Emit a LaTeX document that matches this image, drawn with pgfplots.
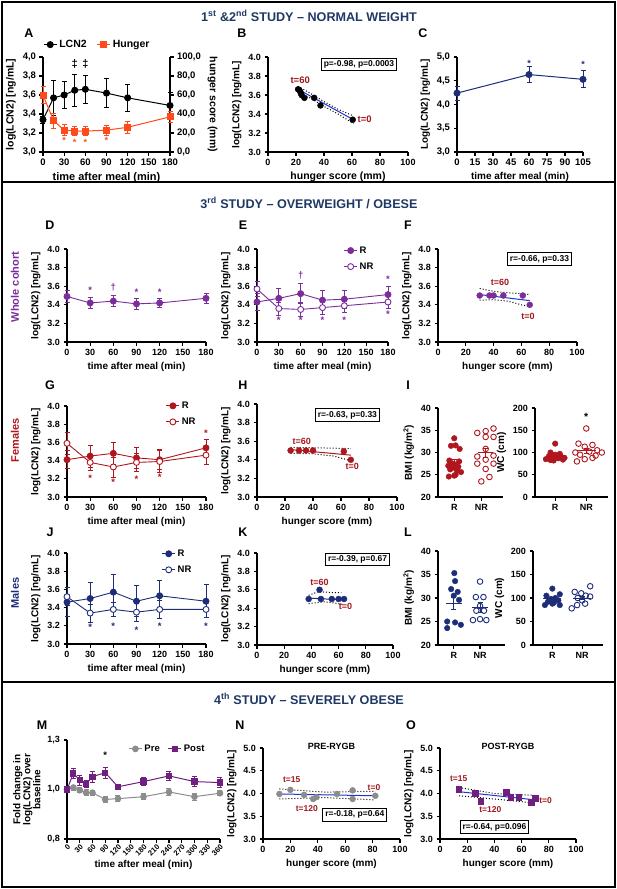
\documentclass[border=0pt]{standalone}
\usepackage{fontspec}
\setmainfont{Liberation Sans}[UprightFont={* Bold}]
\usepackage{pgfplots}
\pgfplotsset{compat=1.18}

\definecolor{ttl}{HTML}{1F3864}
\definecolor{navy}{HTML}{1E2D78}
\definecolor{purp}{HTML}{7B2D9B}
\definecolor{dred}{HTML}{B0161E}
\definecolor{hung}{HTML}{FF4A1C}
\definecolor{regb}{HTML}{2233CC}
\definecolor{tlab}{HTML}{A0181E}
\definecolor{preg}{HTML}{8C8C8C}
\definecolor{postp}{HTML}{6E1F80}

\newcommand\fs[1]{\fontsize{#1}{#1}\selectfont}

\tikzset{tbox/.style={draw, line width=1pt, fill=white, inner sep=2.5pt, font=\fs{8.5}}}

\pgfplotsset{
  gp/.style={scale only axis, anchor=south west, clip=false,
    axis x line*=bottom, axis y line*=left,
    tick align=outside, axis line style={line width=1.2pt},
    tick style={line width=1.1pt, black}, major tick length=3.5pt,
    tick label style={font=\fs{9}},
    label style={font=\fs{10}},
    /pgf/number format/assume math mode=true,
    legend image code/.code={\draw[mark repeat=2,mark phase=2,##1]
      plot coordinates {(0cm,0cm) (0.23cm,0cm) (0.46cm,0cm)};}},
  comma1/.style={yticklabel style={/pgf/number format/.cd, use comma, fixed, fixed zerofill, precision=1}},
  dot1/.style={yticklabel style={/pgf/number format/.cd, fixed, fixed zerofill, precision=1}},
  eb/.style={error bars/.cd, y dir=both, y explicit,
    error bar style={line width=0.8pt},
    error mark options={rotate=90, mark size=2.5pt, line width=0.8pt}},
  tpanel/.style={gp, xmin=0, xmax=180, xtick={0,30,60,90,120,150,180},
    ymin=3, ymax=4, ytick={3,3.2,3.4,3.6,3.8,4}, dot1,
    xlabel={time after meal (min)}, ylabel={log(LCN2) [ng/mL]}},
  hpanel/.style={gp, xmin=0, xmax=100, xtick={0,20,40,60,80,100},
    ymin=3, ymax=4, ytick={3,3.2,3.4,3.6,3.8,4}, dot1,
    xlabel={hunger score (mm)}, ylabel={log(LCN2) [ng/mL]}},
  leg/.style={legend style={draw=none, fill=none, font=\fs{9.5}, row sep=4pt,
    inner sep=0pt, cells={anchor=west}}},
  bmi/.style={gp, xmin=0.4, xmax=2.8, xtick={1,2}, xticklabels={R,NR},
    ymin=20, ymax=40, ytick={20,25,30,35,40}, ylabel={BMI (kg/m\textsuperscript{2})}},
  wc/.style={gp, xmin=0.35, xmax=2.7, xtick={1,2}, xticklabels={R,NR},
    ymin=0, ymax=200, ytick={0,50,100,150,200}, ylabel={WC (cm)}},
}

\begin{document}
\begin{tikzpicture}
\useasboundingbox (0pt,0pt) rectangle (617pt,-889pt);
\begin{scope}[x=1pt,y=-1pt]
\draw[line width=1.5pt] (2,2) rectangle (615,887);
\draw[line width=1.8pt] (2,182) -- (615,182);
\draw[line width=1.8pt] (2,682) -- (615,682);
\node[text=ttl, font=\fs{12.6}] at (309,16) {1\textsuperscript{st} \&2\textsuperscript{nd} STUDY -- NORMAL WEIGHT};
\node[text=ttl, font=\fs{12.6}] at (309,203) {3\textsuperscript{rd} STUDY -- OVERWEIGHT / OBESE};
\node[text=ttl, font=\fs{12.6}] at (309,699) {4\textsuperscript{th} STUDY -- SEVERELY OBESE};
\foreach \l/\x/\y in {A/29/33,B/242/33,C/423/33,D/50/225,E/243/225,F/408/225,
  G/50/385,H/243/385,I/408/385,J/50/532,K/243/532,L/408/532,M/42/725,N/240/725,O/411/725}
  \node[font=\fs{12.5}] at (\x,\y) {\l};
\node[rotate=90, text=purp, font=\fs{11}] at (15,287) {Whole cohort};
\node[rotate=90, text=dred, font=\fs{11}] at (15,440) {Females};
\node[rotate=90, text=navy, font=\fs{11}] at (15,593) {Males};
\end{scope}

% ---------- A ----------
\begin{axis}[tpanel, at={(43pt,-152pt)}, width=127pt, height=95pt, comma1,
  tick label style={font=\fs{9.5}}, label style={font=\fs{10.5}},
  xlabel style={font=\fs{11}}]
\addplot[black, line width=1pt, mark=*, mark size=3pt, eb] coordinates {
  (0,3.34) +- (0,0.04) (15,3.57) +- (0,0.18) (30,3.60) +- (0,0.14)
  (45,3.65) +- (0,0.17) (60,3.66) +- (0,0.15) (90,3.62) +- (0,0.15)
  (120,3.57) +- (0,0.14) (180,3.49) +- (0,0.14)};
\node[font=\fs{11}] at (axis cs:45,3.93) {‡};
\node[font=\fs{11}] at (axis cs:60,3.93) {‡};
\end{axis}
\begin{axis}[gp, at={(43pt,-152pt)}, width=127pt, height=95pt,
  axis y line*=right, axis x line=none, xmin=0, xmax=180,
  ymin=0, ymax=100, ytick={0,20,40,60,80,100},
  yticklabel style={/pgf/number format/.cd, use comma, fixed, fixed zerofill, precision=1},
  tick label style={font=\fs{9.5}}, label style={font=\fs{10.5}},
  ylabel={hunger score (mm)}, ylabel style={rotate=180},
  legend columns=2, legend style={draw=none, fill=none, font=\fs{10.5},
    at={(axis description cs:0.0,1.13)}, anchor=west, inner sep=0pt},
  /tikz/every even column/.append style={column sep=8pt}]
\addlegendimage{black, line width=1pt, mark=*, mark size=3pt}
\addlegendentry{LCN2}
\addplot[hung, line width=1pt, mark=square*, mark size=3pt, eb] coordinates {
  (0,60) +- (0,9) (15,33) +- (0,8) (30,23) +- (0,6) (45,22) +- (0,5)
  (60,22) +- (0,5) (90,23) +- (0,5) (120,26) +- (0,6) (180,37) +- (0,6)};
\addlegendentry{Hunger}
\node[text=hung, font=\fs{9}] at (axis cs:30,12) {*};
\node[text=hung, font=\fs{9}] at (axis cs:45,10) {*};
\node[text=hung, font=\fs{9}] at (axis cs:60,10) {*};
\node[text=hung, font=\fs{9}] at (axis cs:90,12) {*};
\end{axis}

% ---------- B ----------
\begin{axis}[hpanel, at={(268pt,-152pt)}, width=140pt, height=95pt,
  xlabel style={font=\fs{10.5}}]
\addplot[dotted, line width=1pt] coordinates {(21.5,3.69)(30,3.62)(40,3.53)(50,3.45)(61,3.38)};
\addplot[dotted, line width=1pt] coordinates {(21.5,3.62)(30,3.57)(40,3.48)(50,3.40)(61,3.30)};
\addplot[regb, line width=1pt] coordinates {(21.5,3.66)(61,3.34)};
\addplot[only marks, black, mark=*, mark size=3pt] coordinates {
  (21.5,3.66)(22.5,3.65)(23.5,3.62)(24,3.60)(26,3.57)(33,3.57)(37.5,3.49)(60.5,3.34)};
\node[tbox] at (axis cs:65,3.92) {p=-0.98, p=0.0003};
\node[text=tlab, font=\fs{9.5}] at (axis cs:23,3.76) {t=60};
\node[text=tlab, font=\fs{9.5}] at (axis cs:69,3.35) {t=0};
\end{axis}

% ---------- C ----------
\begin{axis}[gp, at={(457pt,-152pt)}, width=126pt, height=95pt,
  xmin=0, xmax=105, xtick={0,15,30,45,60,75,90,105},
  ymin=3, ymax=5, ytick={3,3.5,4,4.5,5}, comma1,
  tick label style={font=\fs{9.5}}, label style={font=\fs{10}},
  xlabel={time after meal (min)}, ylabel={Log(LCN2) [ng/mL]}]
\addplot[navy, line width=1pt, mark=*, mark size=3pt, eb] coordinates {
  (0,4.24) +- (0,0.15) (60,4.63) +- (0,0.17) (105,4.53) +- (0,0.18)};
\node[text=navy, font=\fs{9}] at (axis cs:60,4.86) {*};
\node[text=navy, font=\fs{9}] at (axis cs:105,4.84) {*};
\end{axis}

% ---------- D ----------
\begin{axis}[tpanel, at={(67pt,-342pt)}, width=139pt, height=93pt]
\addplot[purp, line width=0.9pt, mark=*, mark size=3pt, eb] coordinates {
  (0,3.49) +- (0,0.06) (30,3.42) +- (0,0.06) (60,3.44) +- (0,0.06)
  (90,3.41) +- (0,0.06) (120,3.42) +- (0,0.05) (180,3.47) +- (0,0.05)};
\node[text=purp, font=\fs{9.5}] at (axis cs:30,3.56) {*};
\node[text=purp, font=\fs{9.5}] at (axis cs:60,3.59) {†};
\node[text=purp, font=\fs{9.5}] at (axis cs:90,3.53) {*};
\node[text=purp, font=\fs{9.5}] at (axis cs:120,3.54) {*};
\end{axis}

% ---------- E ----------
\begin{axis}[tpanel, at={(257pt,-342pt)}, width=131pt, height=93pt, leg,
  legend style={at={(axis description cs:0.66,1.05)}, anchor=north west}]
\addplot[purp, line width=0.9pt, mark=*, mark size=3pt, eb] coordinates {
  (0,3.43) +- (0,0.09) (30,3.47) +- (0,0.11) (60,3.52) +- (0,0.11)
  (90,3.45) +- (0,0.10) (120,3.46) +- (0,0.10) (180,3.51) +- (0,0.09)};
\addlegendentry{R}
\addplot[purp, line width=0.9pt, mark=*, mark size=3pt, mark options={fill=white}, eb] coordinates {
  (0,3.57) +- (0,0.08) (30,3.36) +- (0,0.07) (60,3.35) +- (0,0.08)
  (90,3.37) +- (0,0.07) (120,3.39) +- (0,0.07) (180,3.43) +- (0,0.07)};
\addlegendentry{NR}
\node[text=purp, font=\fs{9.5}] at (axis cs:60,3.72) {†};
\node[text=purp, font=\fs{9.5}] at (axis cs:180,3.68) {*};
\pgfplotsinvokeforeach{30,60,90,120}{
  \node[text=purp, font=\fs{9.5}] at (axis cs:#1,3.23) {*};}
\node[text=purp, font=\fs{9.5}] at (axis cs:180,3.30) {*};
\end{axis}

% ---------- F ----------
\begin{axis}[hpanel, at={(438pt,-342pt)}, width=139pt, height=93pt]
\addplot[dotted, line width=1pt] coordinates {(30,3.575)(40,3.545)(50,3.53)(60,3.52)(66,3.51)};
\addplot[dotted, line width=1pt] coordinates {(30,3.45)(40,3.455)(50,3.44)(60,3.40)(66,3.38)};
\addplot[regb, line width=1pt] coordinates {(30,3.51)(66,3.445)};
\addplot[only marks, purp, mark=*, mark size=3pt] coordinates {
  (30,3.50)(37,3.50)(40,3.50)(47,3.50)(61,3.50)(66,3.40)};
\node[tbox] at (axis cs:73,3.89) {r=-0.66, p=0.33};
\node[text=tlab, font=\fs{9}] at (axis cs:44.6,3.645) {t=60};
\node[text=tlab, font=\fs{9}] at (axis cs:64.7,3.28) {t=0};
\end{axis}

% ---------- G ----------
\begin{axis}[tpanel, at={(67pt,-497pt)}, width=139pt, height=91pt, leg,
  legend style={at={(axis description cs:0.71,1.07)}, anchor=north west}]
\addplot[dred, line width=0.9pt, mark=*, mark size=3pt, eb] coordinates {
  (0,3.41) +- (0,0.10) (30,3.45) +- (0,0.12) (60,3.48) +- (0,0.12)
  (90,3.43) +- (0,0.12) (120,3.41) +- (0,0.11) (180,3.54) +- (0,0.09)};
\addlegendentry{R}
\addplot[dred, line width=0.9pt, mark=*, mark size=3pt, mark options={fill=white}, eb] coordinates {
  (0,3.59) +- (0,0.12) (30,3.38) +- (0,0.09) (60,3.33) +- (0,0.11)
  (90,3.38) +- (0,0.10) (120,3.39) +- (0,0.12) (180,3.46) +- (0,0.10)};
\addlegendentry{NR}
\node[text=dred, font=\fs{9.5}] at (axis cs:30,3.21) {*};
\node[text=dred, font=\fs{9.5}] at (axis cs:60,3.16) {*};
\node[text=dred, font=\fs{9.5}] at (axis cs:90,3.20) {*};
\node[text=dred, font=\fs{9.5}] at (axis cs:120,3.22) {*};
\node[text=dred, font=\fs{9.5}] at (axis cs:180,3.70) {*};
\end{axis}

% ---------- H ----------
\begin{axis}[hpanel, at={(257pt,-497pt)}, width=140pt, height=93pt]
\addplot[dotted, line width=1pt] coordinates {(24,3.535)(40,3.53)(55,3.525)(67,3.52)};
\addplot[dotted, line width=1pt] coordinates {(24,3.47)(40,3.465)(55,3.44)(67,3.39)};
\addplot[dred, line width=1pt] coordinates {(24,3.51)(67,3.45)};
\addplot[only marks, dred, mark=*, mark size=3pt] coordinates {
  (24,3.50)(30,3.50)(35,3.50)(40,3.50)(62,3.49)(67,3.40)};
\node[tbox] at (axis cs:64.6,3.88) {r=-0.63, p=0.33};
\node[text=tlab, font=\fs{9}] at (axis cs:32,3.60) {t=60};
\node[text=tlab, font=\fs{9}] at (axis cs:68,3.33) {t=0};
\end{axis}

% ---------- I ----------
\begin{axis}[bmi, at={(438pt,-497pt)}, width=65pt, height=89pt]
\addplot[only marks, dred, mark=*, mark size=2.8pt] coordinates {
  (1.0,33.2)(0.88,31.5)(1.05,31.6)(1.2,30.8)(0.82,28.2)(1.18,28.0)(0.9,27.6)
  (1.05,27.3)(0.78,27.0)(1.15,26.8)(0.95,26.6)(0.85,26.2)(1.1,26.0)(1.25,25.6)
  (1.05,25.0)(0.8,24.6)(1.0,24.8)};
\addplot[only marks, dred, mark=o, mark size=2.8pt, line width=0.9pt] coordinates {
  (1.85,34.4)(2.16,34.8)(2.45,35.4)(2.16,33.5)(2.45,33.5)(1.85,29.1)(2.16,30.8)
  (2.45,29.3)(2.16,28.4)(2.45,27.5)(1.85,27.5)(2.16,26.3)(2.3,24.5)(2.0,23.5)};
\addplot[dred, line width=1pt, mark=none, eb] coordinates {(1,27.7) +- (0,0.7)};
\addplot[dred, line width=1pt] coordinates {(0.72,27.7)(1.28,27.7)};
\addplot[dred, line width=1pt, mark=none, eb] coordinates {(2.15,30.0) +- (0,1.0)};
\addplot[dred, line width=1pt] coordinates {(1.87,30.0)(2.43,30.0)};
\end{axis}
\begin{axis}[wc, at={(535pt,-497pt)}, width=73pt, height=89pt]
\addplot[only marks, dred, mark=*, mark size=2.8pt] coordinates {
  (1.0,120)(0.85,100)(1.15,97)(1.0,95)(0.8,92)(1.2,90)(0.9,88)(1.1,87)
  (0.7,85)(1.25,84)(0.95,82)(1.05,90)(0.85,83)(1.15,93)(1.3,88)};
\addplot[only marks, dred, mark=o, mark size=2.8pt, line width=0.9pt] coordinates {
  (2.0,154)(1.75,120)(2.2,117)(1.95,113)(2.35,105)(1.65,100)(2.1,102)
  (2.5,100)(1.8,95)(2.3,93)(1.95,85)(1.7,80)(2.2,88)};
\addplot[dred, line width=1pt, mark=none, eb] coordinates {(1,91) +- (0,3)};
\addplot[dred, line width=1pt] coordinates {(0.7,91)(1.3,91)};
\addplot[dred, line width=1pt, mark=none, eb] coordinates {(2,104) +- (0,5)};
\addplot[dred, line width=1pt] coordinates {(1.7,104)(2.3,104)};
\node[font=\fs{10.5}] at (axis cs:2,180) {*};
\end{axis}

% ---------- J ----------
\begin{axis}[tpanel, at={(67pt,-644pt)}, width=139pt, height=91pt, leg,
  legend style={at={(axis description cs:0.68,1.06)}, anchor=north west}]
\addplot[navy, line width=0.9pt, mark=*, mark size=3pt, eb] coordinates {
  (0,3.46) +- (0,0.16) (30,3.50) +- (0,0.18) (60,3.57) +- (0,0.19)
  (90,3.47) +- (0,0.17) (120,3.53) +- (0,0.17) (180,3.47) +- (0,0.18)};
\addlegendentry{R}
\addplot[navy, line width=0.9pt, mark=*, mark size=3pt, mark options={fill=white}, eb] coordinates {
  (0,3.52) +- (0,0.10) (30,3.34) +- (0,0.10) (60,3.38) +- (0,0.08)
  (90,3.35) +- (0,0.10) (120,3.38) +- (0,0.10) (180,3.38) +- (0,0.09)};
\addlegendentry{NR}
\node[text=navy, font=\fs{9.5}] at (axis cs:30,3.18) {*};
\node[text=navy, font=\fs{9.5}] at (axis cs:60,3.20) {*};
\node[text=navy, font=\fs{9.5}] at (axis cs:90,3.15) {*};
\node[text=navy, font=\fs{9.5}] at (axis cs:120,3.19) {*};
\node[text=navy, font=\fs{9.5}] at (axis cs:180,3.20) {*};
\end{axis}

% ---------- K ----------
\begin{axis}[hpanel, at={(257pt,-645pt)}, width=136pt, height=92pt]
\addplot[dotted, line width=1pt] coordinates {(38,3.54)(45,3.58)(55,3.57)(62,3.57)};
\addplot[dotted, line width=1pt] coordinates {(38,3.45)(50,3.47)(60,3.45)(64,3.44)};
\addplot[navy, line width=1pt] coordinates {(38,3.51)(64,3.49)};
\addplot[only marks, navy, mark=*, mark size=3pt] coordinates {
  (38,3.50)(46,3.60)(47,3.50)(55,3.50)(60,3.50)(64,3.50)};
\node[tbox] at (axis cs:74,3.93) {r=-0.39, p=0.67};
\node[text=tlab, font=\fs{9}] at (axis cs:46,3.68) {t=60};
\node[text=tlab, font=\fs{9}] at (axis cs:65,3.42) {t=0};
\end{axis}

% ---------- L ----------
\begin{axis}[bmi, at={(438pt,-645pt)}, width=67pt, height=94pt, xmax=2.95]
\addplot[only marks, navy, mark=*, mark size=2.8pt] coordinates {
  (1.02,35.3)(1.05,33.6)(0.9,31.9)(1.15,31.3)(1.0,30.5)(1.2,29.6)
  (0.75,25.0)(1.05,24.8)(1.27,24.3)(0.75,23.6)};
\addplot[only marks, navy, mark=o, mark size=2.8pt, line width=0.9pt] coordinates {
  (2.0,33.5)(1.84,30.2)(2.13,30.2)(2.0,28.3)(1.86,27.3)(2.15,27.3)
  (1.73,25.3)(2.0,25.5)(2.24,25.3)};
\addplot[navy, line width=1pt, mark=none, eb] coordinates {(1,28.8) +- (0,1.3)};
\addplot[navy, line width=1pt] coordinates {(0.7,28.8)(1.3,28.8)};
\addplot[navy, line width=1pt, mark=none, eb] coordinates {(2,28.0) +- (0,1.0)};
\addplot[navy, line width=1pt] coordinates {(1.7,28.0)(2.3,28.0)};
\end{axis}
\begin{axis}[wc, at={(533pt,-645pt)}, width=70pt, height=94pt]
\addplot[only marks, navy, mark=*, mark size=2.8pt] coordinates {
  (1.0,120)(1.25,108)(0.8,105)(1.1,100)(0.95,98)(1.2,95)(0.85,92)
  (1.05,90)(0.75,85)(1.25,85)(1.0,88)};
\addplot[only marks, navy, mark=o, mark size=2.8pt, line width=0.9pt] coordinates {
  (2.27,125)(1.75,113)(1.97,110)(2.12,105)(2.27,103)(1.85,100)(2.0,95)
  (2.1,88)(1.83,85)(1.65,78)};
\addplot[navy, line width=1pt, mark=none, eb] coordinates {(1,98) +- (0,3)};
\addplot[navy, line width=1pt] coordinates {(0.7,98)(1.3,98)};
\addplot[navy, line width=1pt, mark=none, eb] coordinates {(2,100) +- (0,4)};
\addplot[navy, line width=1pt] coordinates {(1.7,100)(2.3,100)};
\end{axis}

% ---------- M ----------
\begin{axis}[gp, at={(67pt,-839pt)}, width=153pt, height=99pt,
  xmin=0, xmax=360, xtick={0,30,60,90,120,150,180,210,240,270,300,330,360},
  xticklabel style={font=\fs{7.5}, rotate=45, anchor=north east, inner sep=0.5pt},
  ymin=0.8, ymax=1.2, ytick={0.8,1.0,1.2}, yticklabels={{0,8},{1,0},{1,3}},
  xlabel={time after meal (min)}, ylabel={Fold change in\\log(LCN2) over\\baseline},
  ylabel style={align=center, font=\fs{10}}, leg,
  legend columns=2, legend style={at={(axis description cs:0.4,0.91)}, anchor=west},
  /tikz/every even column/.append style={column sep=6pt}]
\addplot[preg, line width=1pt, mark=*, mark size=2.8pt, eb] coordinates {
  (0,1.0) +- (0,0.012) (15,1.008) +- (0,0.01) (30,0.997) +- (0,0.01) (45,0.987) +- (0,0.012)
  (60,0.987) +- (0,0.01) (90,0.96) +- (0,0.012) (120,0.963) +- (0,0.012)
  (180,0.971) +- (0,0.012) (240,0.99) +- (0,0.014) (300,0.971) +- (0,0.014) (360,0.985) +- (0,0.01)};
\addlegendentry{Pre}
\addplot[postp, line width=1pt, mark=square*, mark size=2.6pt, eb] coordinates {
  (0,1.0) +- (0,0.012) (15,1.065) +- (0,0.02) (30,1.038) +- (0,0.02) (45,1.022) +- (0,0.015)
  (60,1.052) +- (0,0.022) (90,1.068) +- (0,0.022) (120,1.011) +- (0,0.01)
  (180,1.032) +- (0,0.015) (240,1.055) +- (0,0.02) (300,1.032) +- (0,0.02) (360,1.028) +- (0,0.02)};
\addlegendentry{Post}
\node[font=\fs{9.5}] at (axis cs:90,1.14) {*};
\end{axis}

% ---------- N ----------
\begin{axis}[hpanel, at={(263pt,-839pt)}, width=137pt, height=91pt,
  ymin=3, ymax=5, ytick={3,3.5,4,4.5,5}]
\addplot[dotted, line width=1pt] coordinates {(12,4.10)(45,4.03)(82,4.05)};
\addplot[dotted, line width=1pt] coordinates {(12,3.88)(45,3.91)(82,3.86)};
\addplot[regb, line width=1pt] coordinates {(12,3.99)(82,3.95)};
\addplot[only marks, preg, mark=*, mark size=3pt] coordinates {
  (12,3.99)(20,4.08)(30,3.97)(36.6,3.88)(39,3.92)(54,3.99)(65.4,4.07)(65.4,3.88)(82,3.95)};
\node[tbox] at (axis cs:67,3.53) {r=-0.18, p=0.64};
\node[text=tlab, font=\fs{8.5}] at (axis cs:21,4.30) {t=15};
\node[text=tlab, font=\fs{8.5}] at (axis cs:81,4.14) {t=0};
\node[text=tlab, font=\fs{8.5}] at (axis cs:32,3.66) {t=120};
\node[font=\fs{9}] at (axis cs:50,5.03) {PRE-RYGB};
\end{axis}

% ---------- O ----------
\begin{axis}[hpanel, at={(440pt,-839pt)}, width=136pt, height=91pt,
  ymin=3, ymax=5, ytick={3,3.5,4,4.5,5}]
\addplot[dotted, line width=1pt] coordinates {(14,4.13)(40,4.0)(70,3.96)};
\addplot[dotted, line width=1pt] coordinates {(14,3.95)(40,3.88)(70,3.79)};
\addplot[regb, line width=1pt] coordinates {(14,4.04)(70,3.86)};
\addplot[only marks, postp, mark=square*, mark size=2.8pt] coordinates {
  (13.7,4.10)(26,4.01)(30,3.83)(48.5,4.03)(52,3.92)(58,3.92)(67,3.81)(70,3.90)};
\node[tbox] at (axis cs:40,3.26) {r=-0.64, p=0.096};
\node[text=tlab, font=\fs{8.5}] at (axis cs:13.7,4.32) {t=15};
\node[text=tlab, font=\fs{8.5}] at (axis cs:37,3.64) {t=120};
\node[text=tlab, font=\fs{8.5}] at (axis cs:77.6,3.85) {t=0};
\node[font=\fs{9}] at (axis cs:50,5.03) {POST-RYGB};
\end{axis}
\end{tikzpicture}
\end{document}
